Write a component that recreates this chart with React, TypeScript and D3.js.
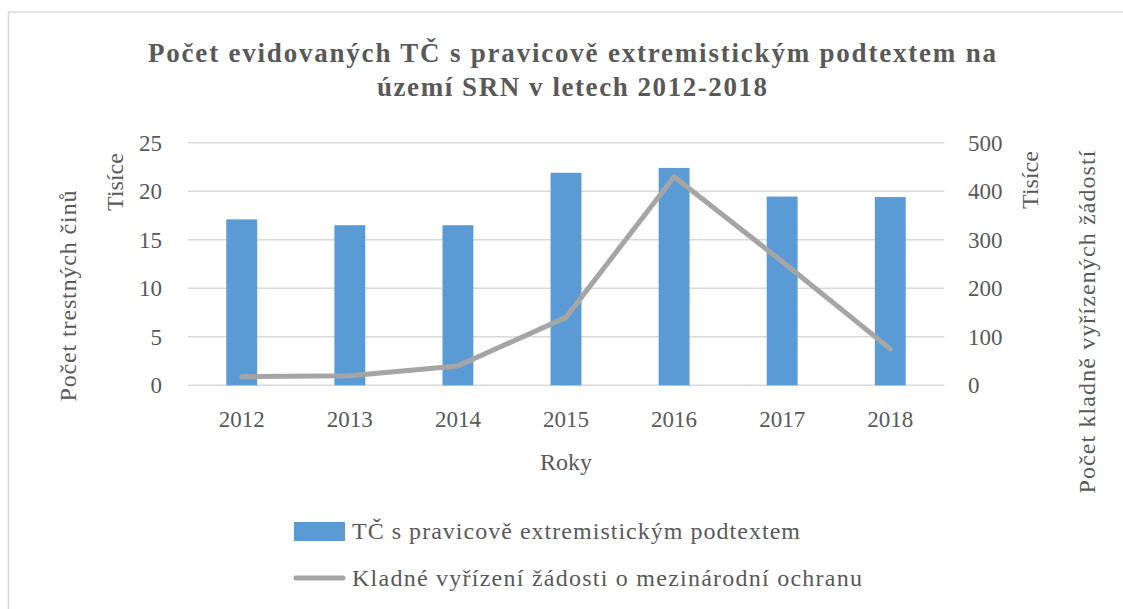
import React from "react";
import { scaleBand, scaleLinear, line, curveLinear } from "d3";

const years = ["2012", "2013", "2014", "2015", "2016", "2017", "2018"];
// trestné činy, v tisících
const crimes = [17.1, 16.5, 16.5, 21.9, 22.4, 19.45, 19.4];
// kladně vyřízené žádosti, v tisících
const approvals = [17.7, 19.8, 40, 140, 430, 255, 75];
const leftTicks = [0, 5, 10, 15, 20, 25];
const rightTicks = [0, 100, 200, 300, 400, 500];

const titleLines = [
  "Počet evidovaných TČ s pravicově extremistickým podtextem na",
  "území SRN v letech 2012-2018",
];
const crimesLabel = "TČ s pravicově extremistickým podtextem";
const approvalsLabel = "Kladné vyřízení žádosti o mezinárodní ochranu";

const W = 1123;
const H = 609;
const FONT = "'Liberation Serif', 'DejaVu Serif', serif";
const TEXT = "#595959";

const App = () => {
  const left = 187.7;
  const right = 944.3;
  const top = 142.7;
  const bottom = 385.3;

  const x = scaleBand<string>().domain(years).range([left, right]).padding(0);
  const yL = scaleLinear().domain([0, 25]).range([bottom, top]);
  const yR = scaleLinear().domain([0, 500]).range([bottom, top]);
  const barW = x.bandwidth() / 3.5;

  const myLine = line<number>()
    .x((d, i) => (x(years[i]) as number) + x.bandwidth() / 2)
    .y((d) => yR(d))
    .curve(curveLinear);

  const titleW = [848, 390];

  return (
    <svg
      width={W}
      height={H}
      style={{ position: "fixed", left: 0, top: 0, background: "#fff" }}
      fontFamily={FONT}
    >
      <rect x={0} y={0} width={W} height={H} fill="#fff" />
      {/* ramecek */}
      <line x1={8.5} x2={W} y1={12} y2={12} stroke="#d9d9d9" strokeWidth={1.5} />
      <line x1={8.5} x2={8.5} y1={12} y2={H} stroke="#d9d9d9" strokeWidth={1.5} />

      {titleLines.map((t, i) => (
        <text
          key={i}
          x={572}
          y={62 + i * 34}
          textAnchor="middle"
          fontSize={27}
          fontWeight="bold"
          fill={TEXT}
          textLength={titleW[i]}
          lengthAdjust="spacing"
        >
          {t}
        </text>
      ))}

      {/* mrizka */}
      {leftTicks.map((t) => (
        <line
          key={t}
          x1={left}
          x2={right}
          y1={yL(t)}
          y2={yL(t)}
          stroke="#d9d9d9"
          strokeWidth={1.5}
        />
      ))}
      {leftTicks.map((t) => (
        <text
          key={t}
          x={162}
          y={yL(t)}
          dy="0.35em"
          textAnchor="end"
          fontSize={23}
          fill={TEXT}
        >
          {t}
        </text>
      ))}
      {rightTicks.map((t) => (
        <text
          key={t}
          x={968}
          y={yR(t)}
          dy="0.35em"
          textAnchor="start"
          fontSize={23}
          fill={TEXT}
        >
          {t}
        </text>
      ))}

      {crimes.map((v, i) => (
        <rect
          key={years[i]}
          x={(x(years[i]) as number) + (x.bandwidth() - barW) / 2}
          y={yL(v)}
          width={barW}
          height={yL(0) - yL(v)}
          fill="#5b9bd5"
        />
      ))}

      <path
        d={myLine(approvals) || ""}
        fill="none"
        stroke="#a5a5a5"
        strokeWidth={5}
        strokeLinecap="round"
        strokeLinejoin="round"
      />

      {years.map((y) => (
        <text
          key={y}
          x={(x(y) as number) + x.bandwidth() / 2}
          y={419}
          dy="0.35em"
          textAnchor="middle"
          fontSize={23}
          fill={TEXT}
        >
          {y}
        </text>
      ))}
      <text x={566} y={462} dy="0.35em" textAnchor="middle" fontSize={24} fill={TEXT}>
        Roky
      </text>

      <text
        transform="translate(115,182) rotate(-90)"
        textAnchor="middle"
        dy="0.35em"
        fontSize={24}
        fill={TEXT}
      >
        Tisíce
      </text>
      <text
        transform="translate(68,296) rotate(-90)"
        textAnchor="middle"
        dy="0.35em"
        fontSize={24}
        fill={TEXT}
        textLength={211}
        lengthAdjust="spacing"
      >
        Počet trestných činů
      </text>
      <text
        transform="translate(1030,180) rotate(-90)"
        textAnchor="middle"
        dy="0.35em"
        fontSize={24}
        fill={TEXT}
      >
        Tisíce
      </text>
      <text
        transform="translate(1087,322) rotate(-90)"
        textAnchor="middle"
        dy="0.35em"
        fontSize={24}
        fill={TEXT}
        textLength={343}
        lengthAdjust="spacing"
      >
        Počet kladně vyřízených žádostí
      </text>

      {/* legenda */}
      <rect x={294} y={522} width={51} height={19} fill="#5b9bd5" />
      <text
        x={352}
        y={531}
        dy="0.35em"
        fontSize={24}
        fill={TEXT}
        textLength={448}
        lengthAdjust="spacing"
      >
        {crimesLabel}
      </text>
      <line
        x1={296}
        x2={343}
        y1={578}
        y2={578}
        stroke="#a5a5a5"
        strokeWidth={5}
        strokeLinecap="round"
      />
      <text
        x={352}
        y={578}
        dy="0.35em"
        fontSize={24}
        fill={TEXT}
        textLength={510}
        lengthAdjust="spacing"
      >
        {approvalsLabel}
      </text>
    </svg>
  );
};

export default App;
